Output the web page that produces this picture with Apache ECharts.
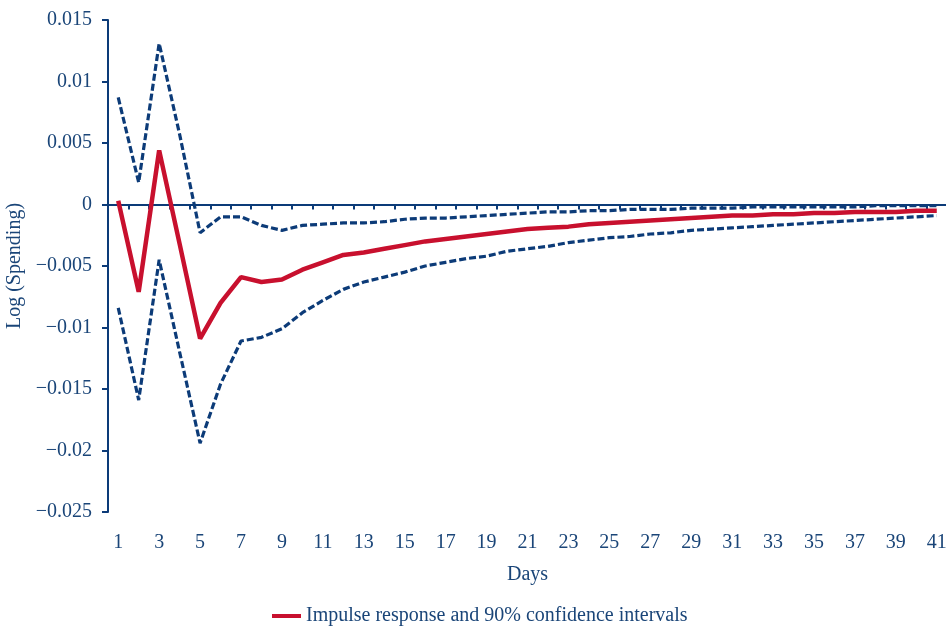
<!DOCTYPE html>
<html>
<head>
<meta charset="utf-8">
<script src="https://cdn.jsdelivr.net/npm/echarts@6/dist/echarts.min.js"></script>
<style>html,body{margin:0;padding:0;background:#fff}#c{width:946px;height:627px}</style>
</head>
<body>
<div id="c"></div>
<script>
var days = ['1','2','3','4','5','6','7','8','9','10','11','12','13','14','15','16','17','18','19','20','21','22','23','24','25','26','27','28','29','30','31','32','33','34','35','36','37','38','39','40','41'];
var central = [0.0003,-0.0071,0.0044,-0.0032,-0.0109,-0.0080,-0.0059,-0.0063,-0.0061,-0.0053,-0.0047,-0.0041,-0.0039,-0.0036,-0.0033,-0.0030,-0.0028,-0.0026,-0.0024,-0.0022,-0.0020,-0.0019,-0.0018,-0.0016,-0.0015,-0.0014,-0.0013,-0.0012,-0.0011,-0.0010,-0.0009,-0.0009,-0.0008,-0.0008,-0.0007,-0.0007,-0.0006,-0.0006,-0.0006,-0.0005,-0.0005];
var upper = [0.0087,0.0018,0.0131,0.0057,-0.0023,-0.0010,-0.0010,-0.0017,-0.0021,-0.0017,-0.0016,-0.0015,-0.0015,-0.0014,-0.0012,-0.0011,-0.0011,-0.0010,-0.0009,-0.0008,-0.0007,-0.0006,-0.0006,-0.0005,-0.0005,-0.0004,-0.0004,-0.0004,-0.0003,-0.0003,-0.0003,-0.0002,-0.0002,-0.0002,-0.0002,-0.0002,-0.0002,-0.0001,-0.0001,-0.0001,-0.0001];
var lower = [-0.0084,-0.0159,-0.0045,-0.0120,-0.0194,-0.0146,-0.0111,-0.0108,-0.0101,-0.0088,-0.0078,-0.0069,-0.0063,-0.0059,-0.0055,-0.0050,-0.0047,-0.0044,-0.0042,-0.0038,-0.0036,-0.0034,-0.0031,-0.0029,-0.0027,-0.0026,-0.0024,-0.0023,-0.0021,-0.0020,-0.0019,-0.0018,-0.0017,-0.0016,-0.0015,-0.0014,-0.0013,-0.0012,-0.0011,-0.0010,-0.0009];
var seriesName = 'Impulse response and 90% confidence intervals';
var yName = 'Log (Spending)';
var xName = 'Days';

var NAVY = '#0c3b78';
var TEXT = '#1a4578';
var RED = '#c8102e';
var FONT = "'Liberation Serif','Times New Roman',serif";

var chart = echarts.init(document.getElementById('c'), null, {renderer: 'canvas'});
chart.setOption({
  animation: false,
  backgroundColor: '#fff',
  textStyle: {fontFamily: FONT},
  grid: {left: 108, right: -1, top: 20, bottom: 115, containLabel: false, outerBoundsMode: 'none'},
  legend: {
    data: [{name: seriesName, icon: 'rect'}],
    left: 267, top: 601,
    itemWidth: 29, itemHeight: 4, itemGap: 6,
    textStyle: {fontFamily: FONT, fontSize: 20, color: TEXT}
  },
  xAxis: [
    {
      type: 'category', data: days, position: 'bottom', boundaryGap: true,
      axisLine: {onZero: true, lineStyle: {color: NAVY, width: 2}},
      axisTick: {show: true, length: 5, interval: 0, lineStyle: {color: NAVY, width: 2}},
      axisLabel: {show: false},
      splitLine: {show: false}
    },
    {
      type: 'category', data: days, position: 'bottom', boundaryGap: true,
      axisLine: {show: false, onZero: false},
      axisTick: {show: false},
      axisLabel: {interval: 1, margin: 21, fontFamily: FONT, fontSize: 20, color: TEXT},
      name: xName, nameLocation: 'middle', nameGap: 53,
      nameTextStyle: {fontFamily: FONT, fontSize: 20, color: TEXT},
      splitLine: {show: false}
    }
  ],
  yAxis: {
    type: 'value', min: -0.025, max: 0.015, interval: 0.005,
    axisLine: {show: true, lineStyle: {color: NAVY, width: 2}},
    axisTick: {show: true, length: 6, lineStyle: {color: NAVY, width: 2}},
    splitLine: {show: false},
    axisLabel: {
      margin: 16, fontFamily: FONT, fontSize: 20, color: TEXT,
      formatter: function (v) {
        var r = +v.toFixed(3);
        if (r === 0) return '0';
        return r < 0 ? '\u2212' + String(-r) : String(r);
      }
    },
    name: yName, nameLocation: 'middle', nameRotate: 90, nameGap: 76,
    nameTextStyle: {fontFamily: FONT, fontSize: 20, color: TEXT}
  },
  series: [
    {
      name: 'Upper', type: 'line', data: upper, xAxisIndex: 0, symbol: 'none',
      lineStyle: {color: NAVY, width: 3.2, type: [7, 3]}, itemStyle: {color: NAVY}, z: 3
    },
    {
      name: 'Lower', type: 'line', data: lower, xAxisIndex: 0, symbol: 'none',
      lineStyle: {color: NAVY, width: 3.2, type: [7, 3]}, itemStyle: {color: NAVY}, z: 3
    },
    {
      name: seriesName, type: 'line', data: central, xAxisIndex: 0, symbol: 'none',
      lineStyle: {color: RED, width: 4.5}, itemStyle: {color: RED}, z: 4
    }
  ]
});
</script>
</body>
</html>
